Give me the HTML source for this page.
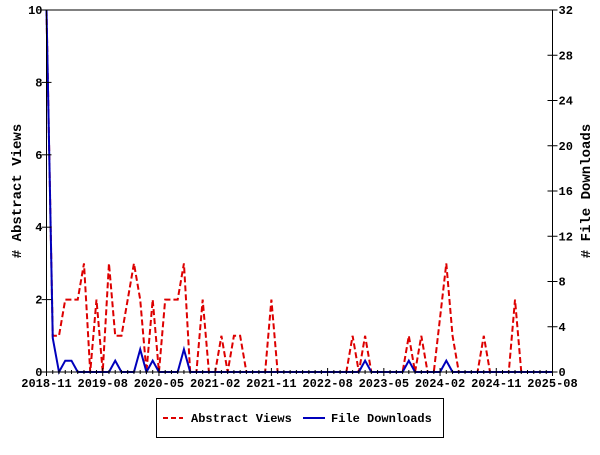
<!DOCTYPE html>
<html><head><meta charset="utf-8"><style>
body{margin:0;background:#fff;}
svg text{font-family:"Liberation Mono","DejaVu Sans Mono",monospace;font-weight:bold;font-size:12px;fill:#000;}
</style></head><body>
<svg id="chart" width="600" height="450" xmlns="http://www.w3.org/2000/svg">
<rect x="0" y="0" width="600" height="450" fill="#fff"/>
<g id="grid"></g>
<g id="series"></g>
<g id="axes"></g>
<g>
<rect x="156.5" y="398.5" width="287" height="39" fill="#fff" stroke="#000" stroke-width="1"/>
<line x1="163" y1="418" x2="183" y2="418" stroke="#dd0000" stroke-width="2" stroke-dasharray="5,3"/>
<text x="191" y="422">Abstract Views</text>
<line x1="303" y1="418" x2="325" y2="418" stroke="#0000bb" stroke-width="2"/>
<text x="331" y="422">File Downloads</text>
</g>
<text transform="translate(21,191) rotate(-90)" text-anchor="middle" font-size="14" style="font-size:14px">&#35; Abstract Views</text>
<text transform="translate(590,191) rotate(-90)" text-anchor="middle" style="font-size:14px">&#35; File Downloads</text>
</svg>
<script>
const xTickLabels=["2018-11","2019-08","2020-05","2021-02","2021-11","2022-08","2023-05","2024-02","2024-11","2025-08"];
const leftTicks=[0,2,4,6,8,10];
const rightTicks=[0,4,8,12,16,20,24,28,32];
const abstractViews=[10,1,1,2,2,2,3,0,2,0,3,1,1,2,3,2,0,2,0,2,2,2,3,0,0,2,0,0,1,0,1,1,0,0,0,0,2,0,0,0,0,0,0,0,0,0,0,0,0,1,0,1,0,0,0,0,0,0,1,0,1,0,0,1.5,3,1,0,0,0,0,1,0,0,0,0,2,0,0,0,0,0,0];
const fileDownloads=[32,3,0,1,1,0,0,0,0,0,0,1,0,0,0,2,0,1,0,0,0,0,2,0,0,0,0,0,0,0,0,0,0,0,0,0,0,0,0,0,0,0,0,0,0,0,0,0,0,0,0,1,0,0,0,0,0,0,1,0,0,0,0,0,1,0,0,0,0,0,0,0,0,0,0,0,0,0,0,0,0,0];
const X0=46.5,X1=552.5,Y0=372,Y1=10,NM=81;
const xs=i=>X0+(X1-X0)*i/NM;
const yl=v=>Y0-(Y0-Y1)*v/10;
const yr=v=>Y0-(Y0-Y1)*v/32;
const NS="http://www.w3.org/2000/svg";
function mk(tag,attrs,parent){const e=document.createElementNS(NS,tag);for(const k in attrs)e.setAttribute(k,attrs[k]);parent.appendChild(e);return e;}
const axes=document.getElementById('axes'),series=document.getElementById('series');
// frame
const fr=mk('rect',{x:X0,y:Y1,width:X1-X0,height:Y0-Y1,fill:'none',stroke:'#000','stroke-width':1},axes);


// x ticks
for(let i=0;i<=NM;i++){
 const major=i%9===0;
 const t=mk('line',{x1:xs(i),x2:xs(i),y1:Y0-(major?4:2),y2:Y0+(major?4:2),stroke:'#000','stroke-width':1},axes);
 
 
}
xTickLabels.forEach((l,k)=>{
 const t=mk('text',{x:xs(k*9),y:Y0+15,'text-anchor':'middle'},axes);t.textContent=l;
 
 
});
leftTicks.forEach(v=>{
 const y=yl(v);
 const t=mk('line',{x1:X0-5,x2:X0+5,y1:y,y2:y,stroke:'#000'},axes);
 
 
 const l=mk('text',{x:X0-4,y:y+4,'text-anchor':'end'},axes);l.textContent=v;
 
 
});
rightTicks.forEach(v=>{
 const y=yr(v);
 const t=mk('line',{x1:X1-5,x2:X1+5,y1:y,y2:y,stroke:'#000'},axes);
 
 
 const l=mk('text',{x:X1+6,y:y+4,'text-anchor':'start'},axes);l.textContent=v;
 
 
});
const pv=mk('polyline',{points:abstractViews.map((v,i)=>xs(i)+','+yl(v)).join(' '),fill:'none',stroke:'#dd0000','stroke-width':2,'stroke-dasharray':'6,3'},series);


const pd=mk('polyline',{points:fileDownloads.map((v,i)=>xs(i)+','+yr(v)).join(' '),fill:'none',stroke:'#0000bb','stroke-width':2},series);


</script>
</body></html>
